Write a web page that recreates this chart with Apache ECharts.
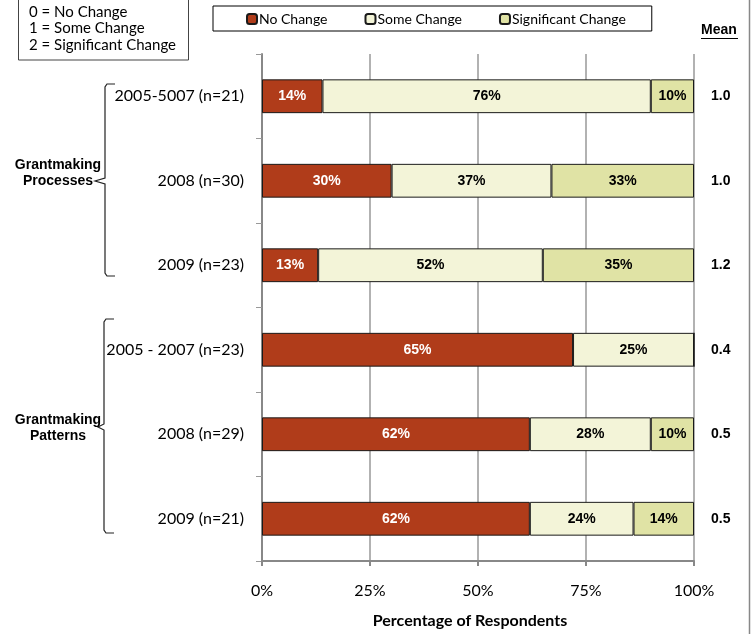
<!DOCTYPE html>
<html>
<head>
<meta charset="utf-8">
<script src="https://cdn.jsdelivr.net/npm/echarts@6/dist/echarts.min.js"></script>
<style>
  html, body { margin: 0; padding: 0; background: #fff; }
  #chart { width: 752px; height: 634px; }
</style>
</head>
<body>
<div id="chart"></div>
<script>
// 数据
const categories = ['2005-5007 (n=21)', '2008 (n=30)', '2009 (n=23)', '2005 - 2007 (n=23)', '2008 (n=29)', '2009 (n=21)'];
const noChange = [14, 30, 13, 72, 62, 62];
const someChange = [76, 37, 52, 28, 28, 24];
const sigChange = [10, 33, 35, 0, 10, 14];
// printed labels (row 4 prints 65% / 25% in the source)
const noChangeLabels = ['14%', '30%', '13%', '65%', '62%', '62%'];
const someChangeLabels = ['76%', '37%', '52%', '25%', '28%', '24%'];
const sigChangeLabels = ['10%', '33%', '35%', '', '10%', '14%'];
const means = ['1.0', '1.0', '1.2', '0.4', '0.5', '0.5'];
const xTicks = [0, 25, 50, 75, 100];

const chart = echarts.init(document.getElementById('chart'));

const labelFont = '"Liberation Sans", Arial, sans-serif';
const bodyFont = 'Lato, sans-serif';

const makeSeries = (name, data, labels, color, textColor) => ({
  name: name,
  type: 'bar',
  stack: 'total',
  barWidth: '40%',
  data: data,
  itemStyle: { color: color, borderColor: '#1a1a1a', borderWidth: 1 },
  label: {
    show: true,
    position: 'inside',
    color: textColor,
    fontFamily: labelFont,
    fontWeight: 'bold',
    fontSize: 14,
    formatter: (p) => labels[p.dataIndex]
  },
  emphasis: { disabled: true }
});

// curly brace as a polyline
const brace = (x, top, bottom, mid, tipX) => ({
  type: 'polyline',
  shape: {
    points: [[x + 10, top], [x + 2, top], [x, top + 3], [x, mid - 3], [tipX, mid], [x, mid + 3], [x, bottom - 3], [x + 2, bottom], [x + 10, bottom]]
  },
  style: { stroke: '#222', lineWidth: 1.2, fill: null }
});

const groupLabel = (text, y) => ({
  type: 'text',
  x: 58,
  y: y,
  style: {
    text: text,
    fontFamily: labelFont,
    fontWeight: 'bold',
    fontSize: 14,
    fill: '#000',
    align: 'center',
    textAlign: 'center',
    lineHeight: 16
  }
});

const option = {
  backgroundColor: '#ffffff',
  animation: false,
  grid: { left: 262, right: 58, top: 54, bottom: 72, containLabel: false },
  legend: {
    left: 213,
    top: 6,
    padding: [6, 26, 5, 33],
    itemGap: 37,
    itemWidth: 10,
    itemHeight: 10,
    borderColor: '#000',
    borderWidth: 1,
    textStyle: { fontFamily: bodyFont, fontSize: 14, color: '#000', padding: [0, 0, 0, -3] },
    data: ['No Change', 'Some Change', 'Significant Change']
  },
  xAxis: {
    type: 'value',
    min: 0,
    max: 100,
    interval: 25,
    axisLine: { show: true, lineStyle: { color: '#888', width: 2 } },
    axisTick: { show: true, length: 5, lineStyle: { color: '#888', width: 2 } },
    axisLabel: {
      formatter: (v) => xTicks.includes(v) ? v + '%' : '',
      fontFamily: bodyFont, fontSize: 16, color: '#000', margin: 22
    },
    splitLine: { show: true, lineStyle: { color: '#999', width: 1.5 } },
    name: 'Percentage of Respondents',
    nameLocation: 'middle',
    nameGap: 52,
    nameTextStyle: { fontFamily: bodyFont, fontWeight: 'bold', fontSize: 16, color: '#000', padding: [0, 16, 0, 0] }
  },
  yAxis: [
    {
      type: 'category',
      inverse: true,
      data: categories,
      axisLine: { show: true, lineStyle: { color: '#888', width: 2 } },
      axisTick: { show: true, length: 6, lineStyle: { color: '#999', width: 1 } },
      axisLabel: { fontFamily: bodyFont, fontSize: 16, color: '#000', margin: 18 }
    },
    {
      type: 'category',
      inverse: true,
      position: 'right',
      data: means,
      axisLine: { show: false },
      axisTick: { show: false },
      axisLabel: {
        fontFamily: labelFont, fontWeight: 'bold', fontSize: 14, color: '#000',
        margin: 17, align: 'left', verticalAlign: 'middle', padding: [0, 0, 3, 0]
      }
    }
  ],
  series: [
    makeSeries('No Change', noChange, noChangeLabels, '#B03C1A', '#ffffff'),
    makeSeries('Some Change', someChange, someChangeLabels, '#F3F4D8', '#000000'),
    makeSeries('Significant Change', sigChange, sigChangeLabels, '#E0E3A5', '#000000')
  ],
  graphic: [
    // key box
    {
      type: 'rect',
      shape: { x: 18.5, y: -1, width: 170, height: 61 },
      style: { fill: '#fff', stroke: '#444', lineWidth: 1 }
    },
    { type: 'text', left: 29, top: 5, style: { text: '0 = No Change', font: '15px Lato', fill: '#000' } },
    { type: 'text', left: 29, top: 21, style: { text: '1 = Some Change', font: '15px Lato', fill: '#000' } },
    { type: 'text', left: 29, top: 38, style: { text: '2 = Significant Change', font: '15px Lato', fill: '#000' } },
    // mean header
    {
      type: 'text', left: 701, top: 23,
      style: { text: 'Mean', font: 'bold 14px "Liberation Sans"', fill: '#000' }
    },
    {
      type: 'line',
      shape: { x1: 701, y1: 38.5, x2: 738, y2: 38.5 },
      style: { stroke: '#000', lineWidth: 1 }
    },
    // right frame edge
    {
      type: 'line',
      shape: { x1: 749.5, y1: 0, x2: 749.5, y2: 634 },
      style: { stroke: '#888', lineWidth: 1.5 }
    },
    // group braces and labels
    brace(105, 84, 276, 181, 95),
    brace(104, 319, 533, 427, 98),
    groupLabel('Grantmaking\nProcesses', 157),
    groupLabel('Grantmaking\nPatterns', 412)
  ]
};

chart.setOption(option);
</script>
</body>
</html>
